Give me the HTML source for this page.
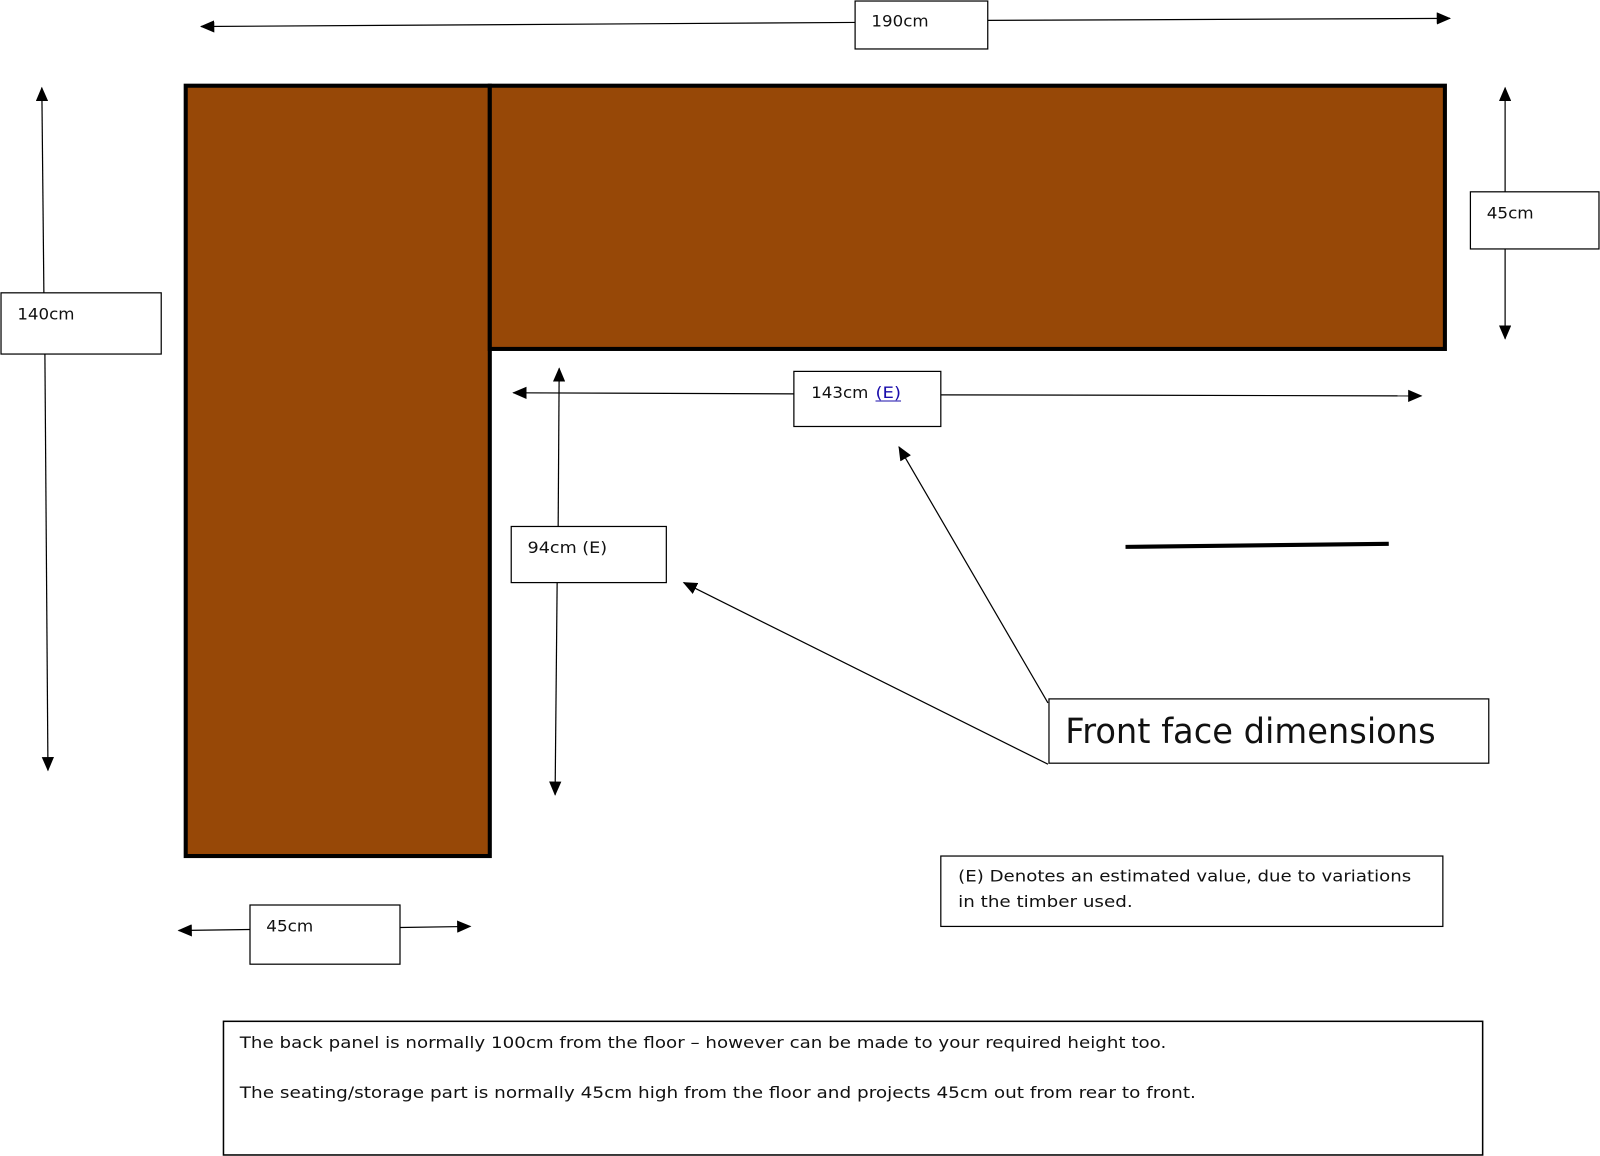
<!DOCTYPE html>
<html><head><style>
html,body{margin:0;padding:0;background:#fff;}
svg{display:block;}
text{font-family:"DejaVu Sans","Liberation Sans",sans-serif;fill:#111;}
</style></head><body>
<svg width="1600" height="1156" viewBox="0 0 1568 1133" preserveAspectRatio="none" xmlns="http://www.w3.org/2000/svg">
<defs>
<marker id="b" markerWidth="14" markerHeight="12" refX="13" refY="6" orient="auto" markerUnits="userSpaceOnUse"><path d="M0,0 L14,6 L0,12 z" fill="#000"/></marker>
</defs>
<rect x="182" y="84" width="298" height="755" fill="#974807" stroke="#000" stroke-width="4"/>
<rect x="480" y="84" width="936" height="258" fill="#974807" stroke="#000" stroke-width="4"/>

<line x1="838" y1="22" x2="197" y2="26" stroke="#000" stroke-width="1.2" marker-end="url(#b)"/>
<line x1="968" y1="20" x2="1421" y2="18" stroke="#000" stroke-width="1.2" marker-end="url(#b)"/>
<rect x="838" y="1" width="130" height="47" fill="#fff" stroke="#000" stroke-width="1.2"/>
<text x="854" y="26" font-size="16" textLength="56" lengthAdjust="spacingAndGlyphs">190cm</text>

<line x1="43" y1="287" x2="41" y2="86" stroke="#000" stroke-width="1.2" marker-end="url(#b)"/>
<line x1="44" y1="347" x2="47" y2="755" stroke="#000" stroke-width="1.2" marker-end="url(#b)"/>
<rect x="1" y="287" width="157" height="60" fill="#fff" stroke="#000" stroke-width="1.2"/>
<text x="17" y="313" font-size="16" textLength="56" lengthAdjust="spacingAndGlyphs">140cm</text>

<line x1="1475" y1="188" x2="1475" y2="86" stroke="#000" stroke-width="1.2" marker-end="url(#b)"/>
<line x1="1475" y1="244" x2="1475" y2="332" stroke="#000" stroke-width="1.2" marker-end="url(#b)"/>
<rect x="1441" y="188" width="126" height="56" fill="#fff" stroke="#000" stroke-width="1.2"/>
<text x="1457" y="214" font-size="16" textLength="46" lengthAdjust="spacingAndGlyphs">45cm</text>

<line x1="778" y1="386" x2="503" y2="385" stroke="#000" stroke-width="1.2" marker-end="url(#b)"/>
<line x1="922" y1="387" x2="1393" y2="388" stroke="#000" stroke-width="1.2" marker-end="url(#b)"/>
<rect x="778" y="364" width="144" height="54" fill="#fff" stroke="#000" stroke-width="1.2"/>
<text x="795" y="390" font-size="16" textLength="56" lengthAdjust="spacingAndGlyphs">143cm</text>
<text x="858" y="390" font-size="16" fill="#1a0dab" style="fill:#1a0dab" textLength="25" lengthAdjust="spacingAndGlyphs">(E)</text>
<line x1="858" y1="393" x2="883" y2="393" stroke="#1a0dab" stroke-width="1"/>

<line x1="547" y1="516" x2="548" y2="361" stroke="#000" stroke-width="1.2" marker-end="url(#b)"/>
<line x1="546" y1="571" x2="544" y2="779" stroke="#000" stroke-width="1.2" marker-end="url(#b)"/>
<rect x="501" y="516" width="152" height="55" fill="#fff" stroke="#000" stroke-width="1.2"/>
<text x="517" y="542" font-size="16" textLength="78" lengthAdjust="spacingAndGlyphs">94cm (E)</text>

<line x1="1027" y1="749" x2="670" y2="571" stroke="#000" stroke-width="1.2" marker-end="url(#b)"/>
<line x1="1027" y1="689" x2="881" y2="438" stroke="#000" stroke-width="1.2" marker-end="url(#b)"/>
<rect x="1028" y="685" width="431" height="63" fill="#fff" stroke="#000" stroke-width="1.2"/>
<text x="1044" y="728" font-size="34" textLength="363" lengthAdjust="spacingAndGlyphs">Front face dimensions</text>

<line x1="1103" y1="536" x2="1361" y2="533" stroke="#000" stroke-width="4"/>

<line x1="245" y1="911" x2="175" y2="912" stroke="#000" stroke-width="1.2" marker-end="url(#b)"/>
<line x1="392" y1="909" x2="461" y2="908" stroke="#000" stroke-width="1.2" marker-end="url(#b)"/>
<rect x="245" y="887" width="147" height="58" fill="#fff" stroke="#000" stroke-width="1.2"/>
<text x="261" y="913" font-size="16" textLength="46" lengthAdjust="spacingAndGlyphs">45cm</text>

<rect x="922" y="839" width="492" height="69" fill="#fff" stroke="#000" stroke-width="1.2"/>
<text x="939" y="864" font-size="16" textLength="444" lengthAdjust="spacingAndGlyphs">(E) Denotes an estimated value, due to variations</text>
<text x="939" y="889" font-size="16" textLength="171" lengthAdjust="spacingAndGlyphs">in the timber used.</text>

<rect x="219" y="1001" width="1234" height="131" fill="#fff" stroke="#000" stroke-width="1.5"/>
<text x="235" y="1027" font-size="16" textLength="908" lengthAdjust="spacingAndGlyphs">The back panel is normally 100cm from the floor – however can be made to your required height too.</text>
<text x="235" y="1076" font-size="16" textLength="937" lengthAdjust="spacingAndGlyphs">The seating/storage part is normally 45cm high from the floor and projects 45cm out from rear to front.</text>
</svg>
</body></html>
